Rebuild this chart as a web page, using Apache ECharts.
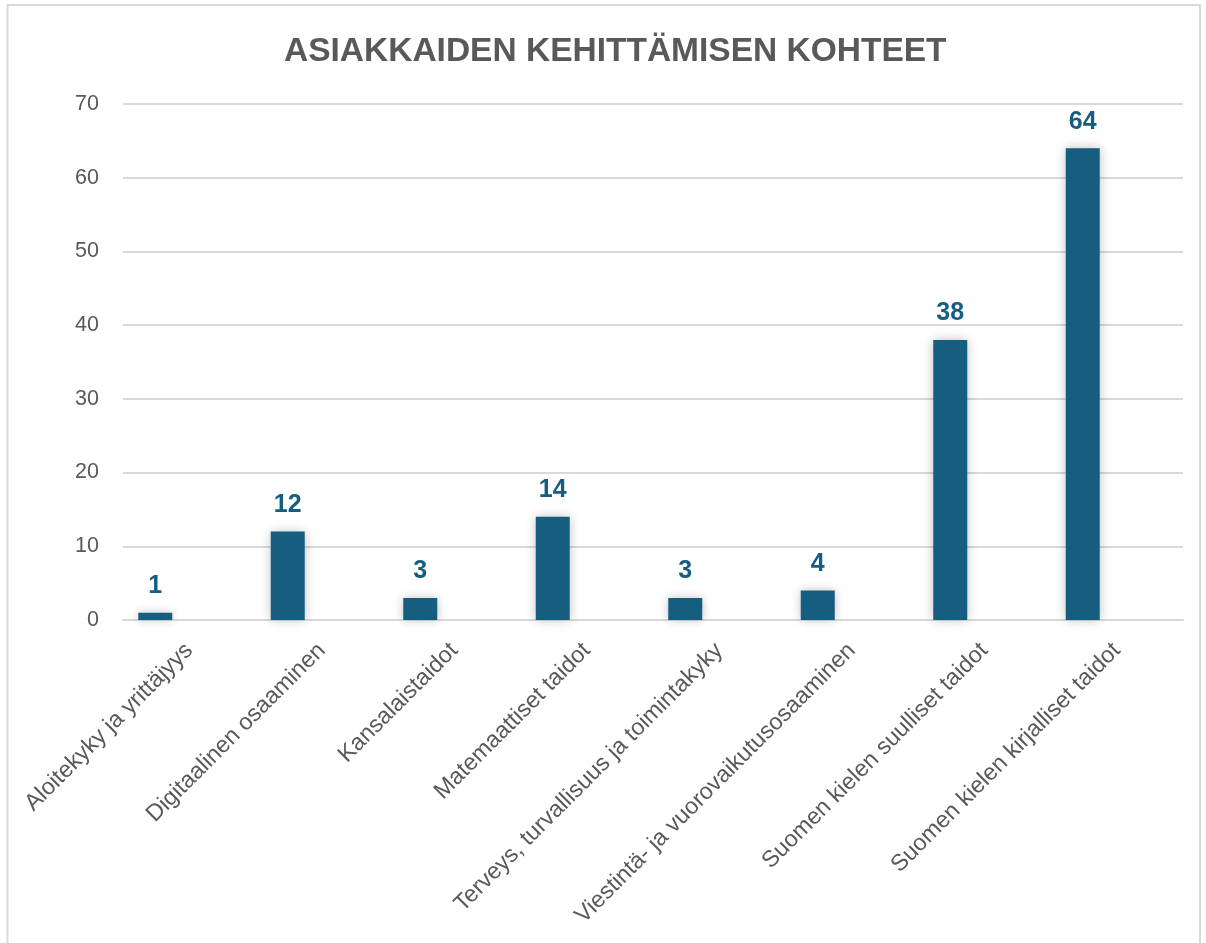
<!DOCTYPE html>
<html lang="fi">

<head>
    <meta charset="UTF-8">
    <title>Asiakkaiden kehittämisen kohteet</title>
    <script src="https://cdn.jsdelivr.net/npm/echarts@6/dist/echarts.min.js"></script>
    <style>
        html,
        body {
            margin: 0;
            padding: 0;
            background: #fff;
        }

        #main {
            width: 1206px;
            height: 943px;
        }
    </style>
</head>

<body>
    <div id="main"></div>
    <script type="text/javascript">
        // kategoriat
        var categories = [
            'Aloitekyky ja yrittäjyys',
            'Digitaalinen osaaminen',
            'Kansalaistaidot',
            'Matemaattiset taidot',
            'Terveys, turvallisuus ja toimintakyky',
            'Viestintä- ja vuorovaikutusosaaminen',
            'Suomen kielen suulliset taidot',
            'Suomen kielen kirjalliset taidot'
        ];
        // arvot (ensimmäinen sarja), kaksi muuta sarjaa ovat tyhjiä
        var values = [1, 12, 3, 14, 3, 4, 38, 64];
        var emptyA = [null, null, null, null, null, null, null, null];
        var emptyB = [null, null, null, null, null, null, null, null];
        // y-akselin asteikko
        var yMin = 0, yMax = 70, yStep = 10;

        var barColor = '#165e80';
        var grey = '#595959';
        var font = '"Liberation Sans", Arial, sans-serif';

        var option = {
            animation: false,
            backgroundColor: '#fff',
            title: {
                text: 'ASIAKKAIDEN KEHITTÄMISEN KOHTEET',
                left: 279,
                top: 30,
                textStyle: {
                    fontFamily: font,
                    fontWeight: 'bold',
                    fontSize: 33.5,
                    color: grey
                }
            },
            graphic: [{
                type: 'rect',
                shape: { x: 7.5, y: 5, width: 1192.5, height: 960 },
                style: { fill: 'none', stroke: '#d9d9d9', lineWidth: 2 },
                silent: true
            }],
            grid: {
                left: 123,
                right: 23,
                top: 104,
                bottom: 323
            },
            xAxis: {
                type: 'category',
                data: categories,
                axisLine: { lineStyle: { color: '#d9d9d9', width: 2 } },
                axisTick: { show: false },
                axisLabel: {
                    interval: 0,
                    rotate: 45,
                    margin: 27,
                    fontFamily: font,
                    fontSize: 23.3,
                    color: grey
                }
            },
            yAxis: {
                type: 'value',
                min: yMin,
                max: yMax,
                interval: yStep,
                axisLine: { show: false },
                axisTick: { show: false },
                axisLabel: {
                    margin: 24,
                    fontFamily: font,
                    fontSize: 21.5,
                    color: grey
                },
                splitLine: { lineStyle: { color: '#d9d9d9', width: 2 } }
            },
            series: [{
                type: 'bar',
                data: values,
                barWidth: 34,
                barGap: 0,
                itemStyle: {
                    color: barColor,
                    shadowBlur: 10,
                    shadowColor: 'rgba(0,0,0,0.25)'
                },
                label: {
                    show: true,
                    position: 'top',
                    distance: 14,
                    fontFamily: font,
                    fontWeight: 'bold',
                    fontSize: 25,
                    color: barColor
                }
            }, {
                type: 'bar',
                data: emptyA,
                barWidth: 34,
                barGap: 0
            }, {
                type: 'bar',
                data: emptyB,
                barWidth: 34,
                barGap: 0
            }]
        };

        var myChart = echarts.init(document.getElementById('main'));
        myChart.setOption(option);
    </script>
</body>

</html>
